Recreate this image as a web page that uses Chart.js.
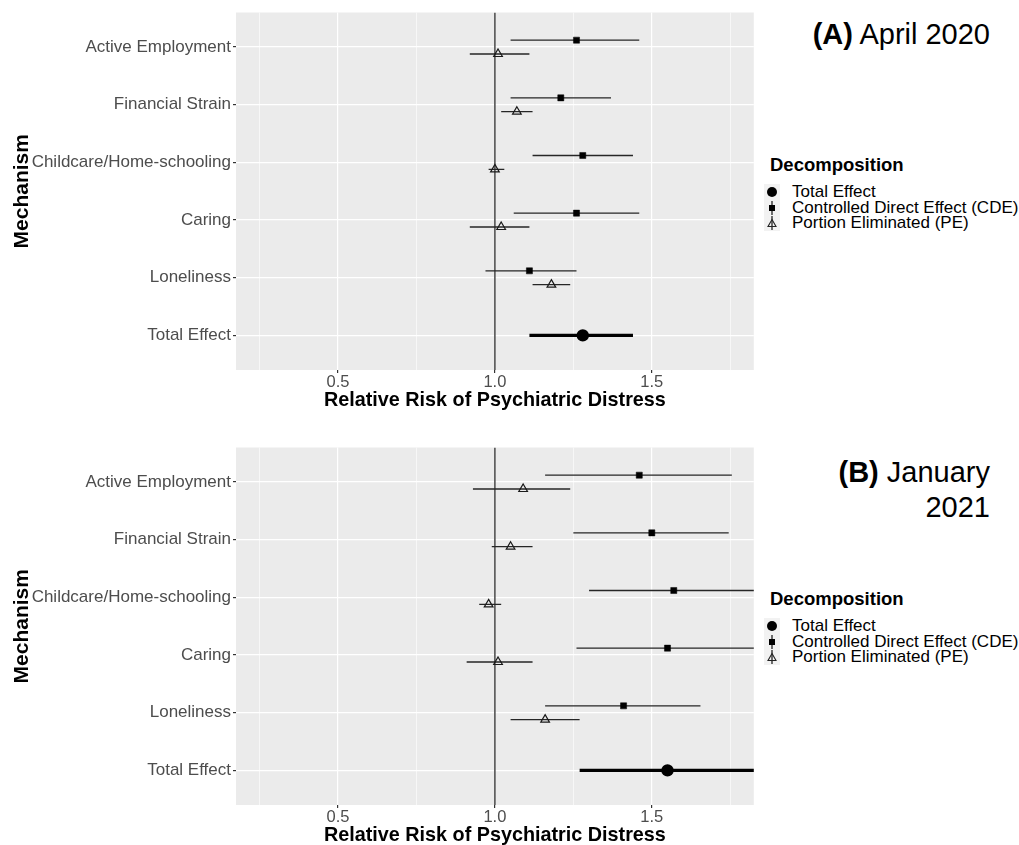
<!DOCTYPE html>
<html>
<head>
<meta charset="utf-8">
<script src="https://cdn.jsdelivr.net/npm/chart.js@4.4.1/dist/chart.umd.min.js"></script>
<style>
  body { margin: 0; width: 1019px; height: 845px; overflow: hidden; background: #fff; position: relative;
         font-family: "Liberation Sans", Arial, sans-serif; }
  canvas { position: absolute; left: 0; }
  .ptitle { position: absolute; right: 29px; font-size: 29px; line-height: 35px; text-align: right; color: #000; }
  .ltitle { position: absolute; left: 770px; font-size: 18.5px; font-weight: bold; line-height: 22px; color: #000; }
  .litem { position: absolute; left: 764px; height: 16px; font-size: 17px; line-height: 16px; color: #000; white-space: nowrap; }
  .litem svg { position: absolute; left: 0; top: 0; }
  .litem span { position: absolute; left: 28px; top: 0; }
</style>
</head>
<body>
<canvas id="chartA" width="760" height="412" style="top:0"></canvas>
<canvas id="chartB" width="760" height="412" style="top:435px"></canvas>
<div class="ptitle" style="top:17px"><b>(A)</b> April 2020</div>
<div class="ptitle" style="top:455px"><b>(B)</b> January<br>2021</div>
<script>
const FONT = '"Liberation Sans", Arial, sans-serif';

// ==== DATA ====
const mechanisms = ["Active Employment", "Financial Strain", "Childcare/Home-schooling", "Caring", "Loneliness"];
const categories = [...mechanisms, "Total Effect"];
const xTicks = [0.25, 0.5, 0.75, 1.0, 1.25, 1.5, 1.75];
const xLabels = ["", "0.5", "", "1.0", "", "1.5", ""];
const legendLabels = ["Total Effect", "Controlled Direct Effect (CDE)", "Portion Eliminated (PE)"];

// (A) April 2020
const cdeA   = [1.26, 1.21, 1.28, 1.26, 1.11];
const cdeALo = [1.05, 1.05, 1.12, 1.06, 0.97];
const cdeAHi = [1.46, 1.37, 1.44, 1.46, 1.26];
const peA    = [1.01, 1.07, 1.00, 1.02, 1.18];
const peALo  = [0.92, 1.02, 0.98, 0.92, 1.12];
const peAHi  = [1.11, 1.12, 1.03, 1.11, 1.24];
const totalA = [1.28, 1.11, 1.44]; // estimate, lower, upper

// (B) January 2021
const cdeB   = [1.46, 1.50, 1.57, 1.55, 1.41];
const cdeBLo = [1.16, 1.25, 1.30, 1.26, 1.16];
const cdeBHi = [1.755, 1.745, 1.87, 1.89, 1.655];
const peB    = [1.09, 1.05, 0.98, 1.01, 1.16];
const peBLo  = [0.93, 0.99, 0.95, 0.91, 1.05];
const peBHi  = [1.24, 1.12, 1.02, 1.12, 1.27];
const totalB = [1.55, 1.27, 1.88];

// ==== PLUGINS ====
const panelBg = {
  id: "panelBg",
  beforeDraw(chart) {
    const { ctx, chartArea: a } = chart;
    ctx.save();
    ctx.fillStyle = "#ebebeb";
    ctx.fillRect(a.left, a.top, a.width, a.height);
    ctx.restore();
  }
};

const whiskers = {
  id: "whiskers",
  beforeDatasetsDraw(chart) {
    const { ctx, chartArea: a, scales: { x, y } } = chart;
    ctx.save();
    ctx.beginPath();
    ctx.rect(a.left, a.top, a.width, a.height);
    ctx.clip();
    // reference line at RR = 1
    ctx.strokeStyle = "#2b2b2b";
    ctx.lineWidth = 1.3;
    ctx.beginPath();
    ctx.moveTo(x.getPixelForValue(1), a.top);
    ctx.lineTo(x.getPixelForValue(1), a.bottom);
    ctx.stroke();
    chart.data.datasets.forEach(ds => {
      ctx.strokeStyle = ds.whiskerColor;
      ctx.lineWidth = ds.whiskerWidth;
      ds.data.forEach(p => {
        const py = y.getPixelForValue(p.y);
        ctx.beginPath();
        ctx.moveTo(x.getPixelForValue(p.lo), py);
        ctx.lineTo(x.getPixelForValue(p.hi), py);
        ctx.stroke();
      });
    });
    ctx.restore();
  }
};

// ==== PANELS ====
function makePanel(id, cde, cdeLo, cdeHi, pe, peLo, peHi, total) {
  const totalPts = [{ x: total[0], y: categories.length, lo: total[1], hi: total[2] }];
  const cdePts = mechanisms.map((m, i) => ({ x: cde[i], y: i + 1 - 0.12, lo: cdeLo[i], hi: cdeHi[i] }));
  const pePts = mechanisms.map((m, i) => ({ x: pe[i], y: i + 1 + 0.12, lo: peLo[i], hi: peHi[i] }));

  new Chart(document.getElementById(id), {
    type: "scatter",
    data: {
      datasets: [
        { label: "Total Effect", data: totalPts, pointStyle: "circle", pointRadius: 6.2,
          backgroundColor: "#000", borderWidth: 0, whiskerWidth: 3.2, whiskerColor: "#000" },
        { label: "CDE", data: cdePts, pointStyle: "rect", pointRadius: 4.3,
          backgroundColor: "#000", borderColor: "#000", borderWidth: 0.5, whiskerWidth: 1.3, whiskerColor: "#262626" },
        { label: "PE", data: pePts, pointStyle: "triangle", pointRadius: 5,
          backgroundColor: "rgba(0,0,0,0)", borderColor: "#1a1a1a", borderWidth: 1.2, whiskerWidth: 1.3, whiskerColor: "#262626" }
      ]
    },
    options: {
      responsive: false,
      animation: false,
      devicePixelRatio: 1,
      layout: { padding: { top: 12.5, right: 1, left: 0, bottom: 0 } },
      plugins: { legend: { display: false }, tooltip: { enabled: false } },
      scales: {
        x: {
          type: "linear", min: 0.175, max: 1.825,
          afterBuildTicks: a => { a.ticks = xTicks.map(v => ({ value: v })); },
          afterFit: a => { a.height = 42; },
          ticks: { callback: (v, i) => xLabels[i], autoSkip: false, maxRotation: 0, padding: 0,
                   color: "#4d4d4d", font: { family: FONT, size: 16.5 } },
          grid: { color: "#fff", lineWidth: c => xLabels[c.index] ? 1.2 : 0.6,
                  tickColor: c => xLabels[c.index] ? "#333" : "rgba(0,0,0,0)", tickLength: 3 },
          border: { display: false },
          title: { display: true, text: "Relative Risk of Psychiatric Distress", color: "#000",
                   font: { family: FONT, size: 19.8, weight: "bold" }, padding: { top: 0, bottom: 0 } }
        },
        y: {
          type: "linear", reverse: true, min: 0.4, max: 6.6,
          afterBuildTicks: a => { a.ticks = categories.map((c, i) => ({ value: i + 1 })); },
          afterFit: a => { a.width = 236; },
          ticks: { callback: (v, i) => categories[i], autoSkip: false, padding: 2,
                   color: "#4d4d4d", font: { family: FONT, size: 17 } },
          grid: { color: "#fff", lineWidth: 1.2, tickColor: "#333", tickLength: 3 },
          border: { display: false },
          title: { display: true, text: "Mechanism", color: "#000",
                   font: { family: FONT, size: 21, weight: "bold" }, padding: { top: 10, bottom: 0 } }
        }
      }
    },
    plugins: [panelBg, whiskers]
  });
}

makePanel("chartA", cdeA, cdeALo, cdeAHi, peA, peALo, peAHi, totalA);
makePanel("chartB", cdeB, cdeBLo, cdeBHi, peB, peBLo, peBHi, totalB);

// ==== LEGENDS ====
const legendIcons = [
  '<circle cx="8" cy="8" r="5" fill="#000"/>',
  '<line x1="8" y1="1" x2="8" y2="15" stroke="#222" stroke-width="1.3"/><rect x="5" y="5" width="6" height="6" fill="#000"/>',
  '<line x1="8" y1="1" x2="8" y2="15" stroke="#222" stroke-width="1.3"/><polygon points="8,4.5 12,11.5 4,11.5" fill="none" stroke="#222" stroke-width="1.1"/>'
];

function makeLegend(top) {
  const t = document.createElement("div");
  t.className = "ltitle";
  t.style.top = (top - 11) + "px";
  t.textContent = "Decomposition";
  document.body.appendChild(t);
  legendLabels.forEach((lab, i) => {
    const d = document.createElement("div");
    d.className = "litem";
    d.style.top = (top + 18.7 + i * 15.8) + "px";
    d.innerHTML = '<svg width="16" height="16" viewBox="0 0 16 16" style="background:#f2f2f2">' +
      legendIcons[i] + "</svg><span>" + lab + "</span>";
    document.body.appendChild(d);
  });
}
makeLegend(165);
makeLegend(599);
</script>
</body>
</html>
